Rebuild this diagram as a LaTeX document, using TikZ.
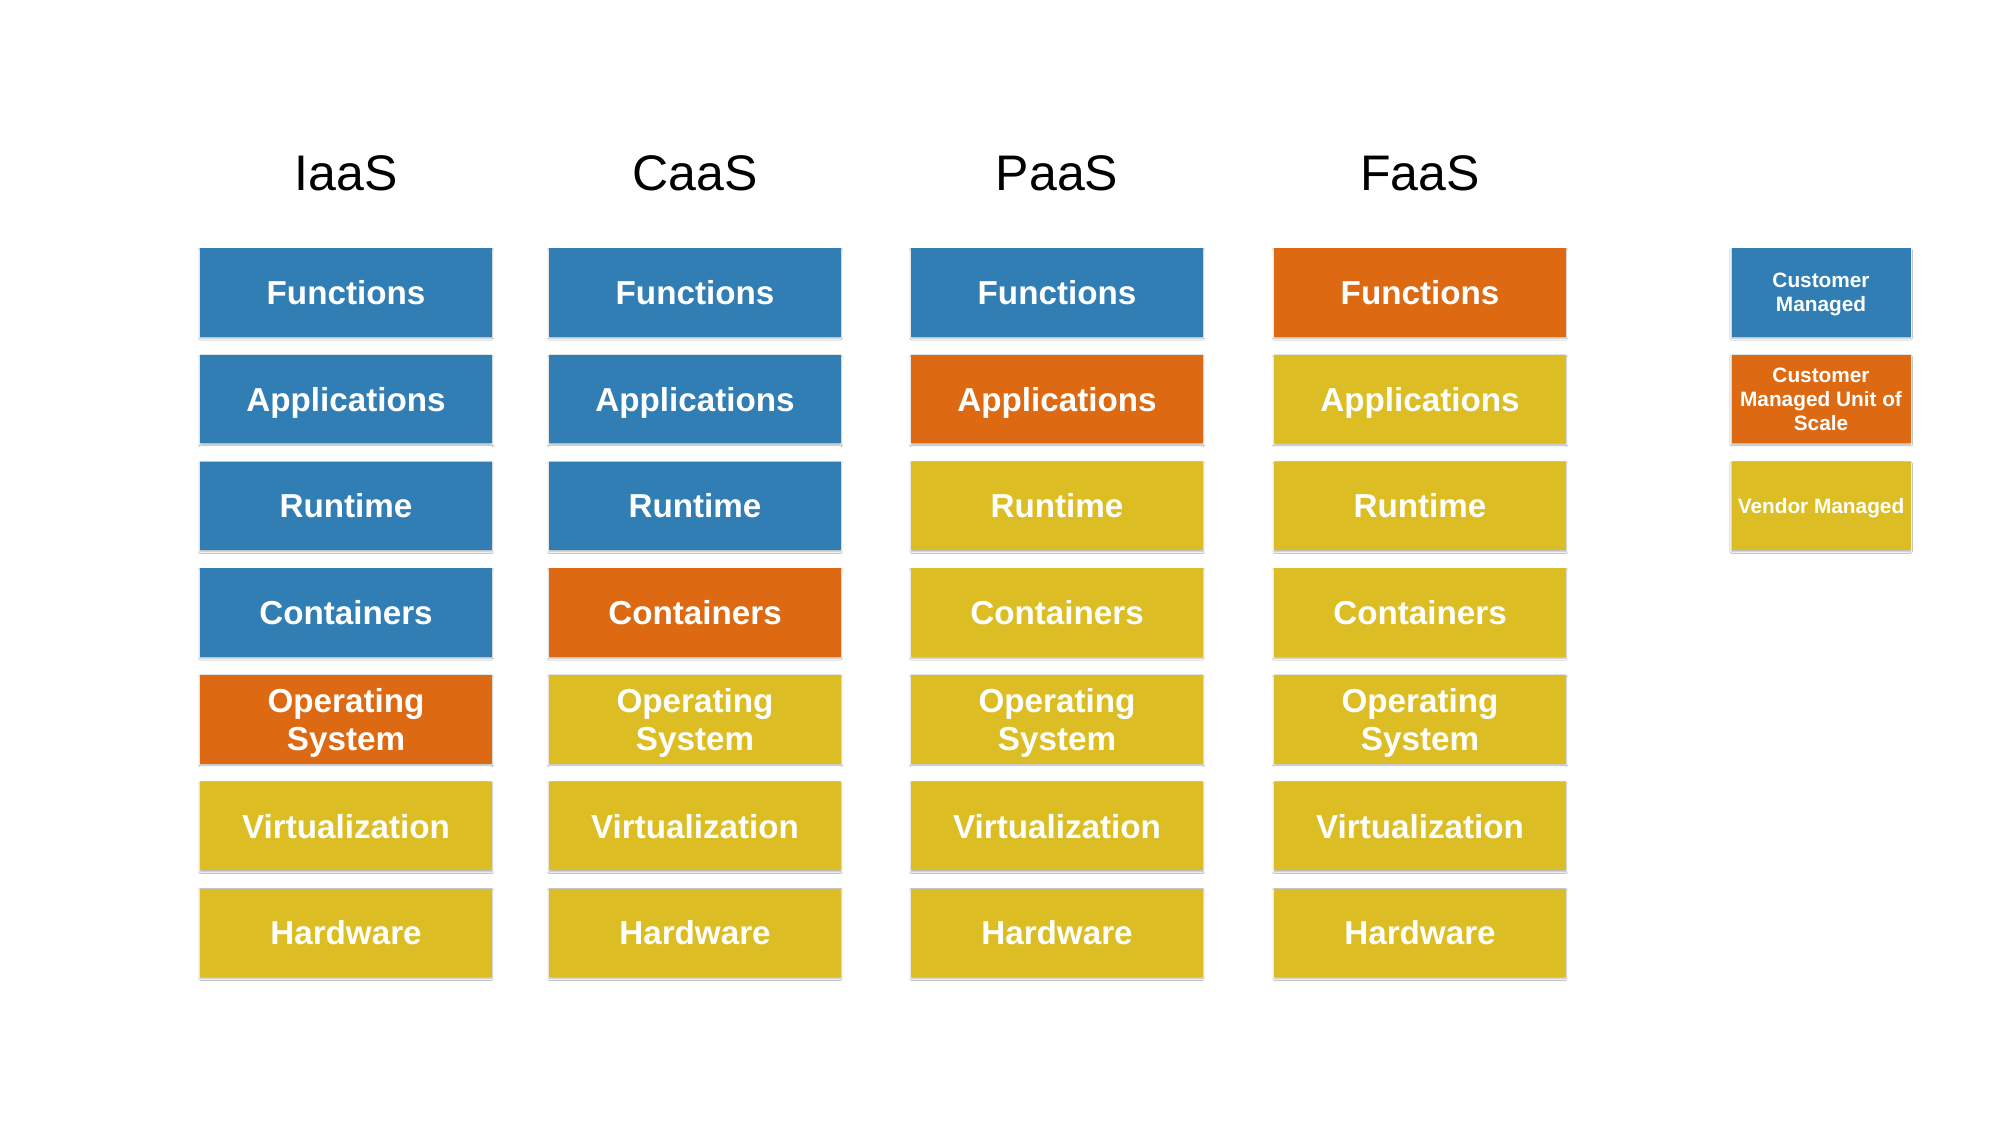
\documentclass[tikz,border=0pt]{standalone}
\usepackage{fontspec}
\setmainfont{Liberation Sans}
\usetikzlibrary{shadows.blur}
\definecolor{cblue}{RGB}{49,126,180}
\definecolor{corange}{RGB}{221,106,18}
\definecolor{cyellow}{RGB}{220,190,36}
\tikzset{
  layer/.style={rectangle, minimum width=146pt, minimum height=44.2pt, inner sep=0pt,
    text=white, font=\bfseries\fontsize{16.6}{19}\selectfont, align=center, text depth=0pt,
    blur shadow={shadow xshift=0pt, shadow yshift=-0.8pt, shadow blur radius=0.9pt,
      shadow blur steps=4, shadow opacity=30}},
  bl/.style={layer, fill=cblue},
  or/.style={layer, fill=corange},
  ye/.style={layer, fill=cyellow},
  keybox/.style={minimum width=89.5pt, font=\bfseries\fontsize{10.4}{12.2}\selectfont},
  title/.style={anchor=base, font=\fontsize{25}{30}\selectfont, text=black}
}
\begin{document}
\begin{tikzpicture}[x=0.5pt, y=-0.5pt]
\useasboundingbox[fill=white] (0,0) rectangle (2000,1125);
% column titles
\node[title] (tI) at (346,190) {IaaS};
\node[title] (tC) at (695,190) {CaaS};
\node[title] (tP) at (1057,190) {PaaS};
\node[title] (tF) at (1420,190) {FaaS};
% IaaS stack
\node[bl] (i1) at (346,292.5) {Functions};
\node[bl] (i2) at (346,399.2) {Applications};
\node[bl] (i3) at (346,505.9) {Runtime};
\node[bl] (i4) at (346,612.6) {Containers};
\node[or] (i5) at (346,719.3) {Operating\\System};
\node[ye] (i6) at (346,826) {Virtualization};
\node[ye] (i7) at (346,932.7) {Hardware};
% CaaS stack
\node[bl] (c1) at (695,292.5) {Functions};
\node[bl] (c2) at (695,399.2) {Applications};
\node[bl] (c3) at (695,505.9) {Runtime};
\node[or] (c4) at (695,612.6) {Containers};
\node[ye] (c5) at (695,719.3) {Operating\\System};
\node[ye] (c6) at (695,826) {Virtualization};
\node[ye] (c7) at (695,932.7) {Hardware};
% PaaS stack
\node[bl] (p1) at (1057,292.5) {Functions};
\node[or] (p2) at (1057,399.2) {Applications};
\node[ye] (p3) at (1057,505.9) {Runtime};
\node[ye] (p4) at (1057,612.6) {Containers};
\node[ye] (p5) at (1057,719.3) {Operating\\System};
\node[ye] (p6) at (1057,826) {Virtualization};
\node[ye] (p7) at (1057,932.7) {Hardware};
% FaaS stack
\node[or] (f1) at (1420,292.5) {Functions};
\node[ye] (f2) at (1420,399.2) {Applications};
\node[ye] (f3) at (1420,505.9) {Runtime};
\node[ye] (f4) at (1420,612.6) {Containers};
\node[ye] (f5) at (1420,719.3) {Operating\\System};
\node[ye] (f6) at (1420,826) {Virtualization};
\node[ye] (f7) at (1420,932.7) {Hardware};
% key
\node[bl, keybox] (k1) at (1821,292.5) {Customer\\Managed};
\node[or, keybox] (k2) at (1821,399.2) {Customer\\Managed Unit of\\Scale};
\node[ye, keybox] (k3) at (1821,505.9) {Vendor Managed};
\end{tikzpicture}
\end{document}
